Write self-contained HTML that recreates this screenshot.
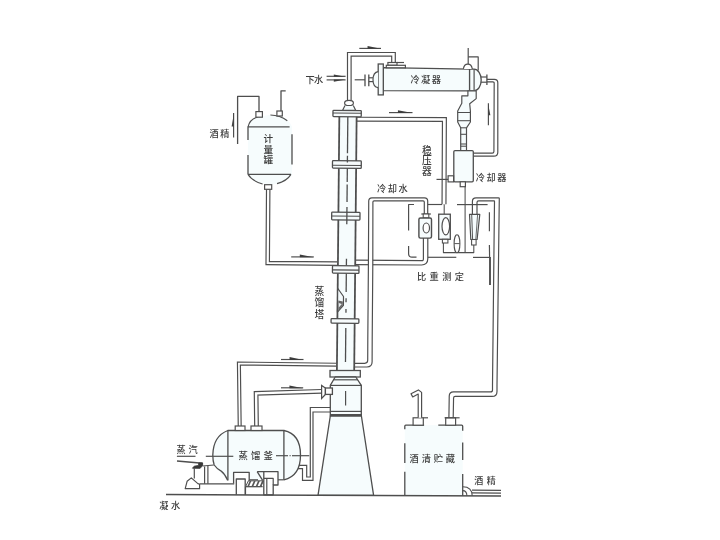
<!DOCTYPE html>
<html lang="zh"><head><meta charset="utf-8"><title>蒸馏塔流程图</title>
<style>
html,body{margin:0;padding:0;background:#fff;}
body{width:720px;height:540px;overflow:hidden;}
svg{display:block;opacity:0.999;will-change:transform;}
svg text{font-family:"Liberation Sans","Noto Sans CJK SC",sans-serif;fill:#3c3c3c;font-weight:500;}
</style></head><body>
<svg width="720" height="540" viewBox="0 0 720 540">
<rect width="720" height="540" fill="#ffffff"/>
<path d="M425.60,238.00 L425.60,258.80 Q425.60,262.80 421.60,262.78 L355.50,262.40" fill="none" stroke="#4e4e4e" stroke-width="5.58" stroke-linejoin="round"/>
<path d="M425.60,238.00 L425.60,258.80 Q425.60,262.80 421.60,262.78 L355.50,262.40" fill="none" stroke="#ffffff" stroke-width="3.22" stroke-linejoin="round"/>
<path d="M427.70,214.00 L427.70,201.10 Q427.70,197.90 424.50,197.90 L371.95,197.90 Q368.75,197.90 368.73,201.10 L368.40,265.00 Q368.40,265.00 368.40,265.00 L367.80,340.00 Q367.80,340.00 367.80,340.00 L367.71,360.30 Q367.70,363.30 364.70,363.30 L354.50,363.30 L354.50,367.00 L366.90,367.00 Q372.10,367.00 372.12,361.80 L372.20,340.00 Q372.20,340.00 372.20,340.00 L372.80,265.00 Q372.80,265.00 372.80,265.00 L372.90,202.00 Q372.90,200.80 374.10,200.80 L423.10,200.80 Q424.30,200.80 424.30,202.00 L424.30,214.00 Z" fill="#fff" stroke="none"/>
<path d="M427.70,214.00 L427.70,201.10 Q427.70,197.90 424.50,197.90 L371.95,197.90 Q368.75,197.90 368.73,201.10 L368.40,265.00 Q368.40,265.00 368.40,265.00 L367.80,340.00 Q367.80,340.00 367.80,340.00 L367.71,360.30 Q367.70,363.30 364.70,363.30 L354.50,363.30" fill="none" stroke="#4e4e4e" stroke-width="1.18"/>
<path d="M424.30,214.00 L424.30,202.00 Q424.30,200.80 423.10,200.80 L374.10,200.80 Q372.90,200.80 372.90,202.00 L372.80,265.00 Q372.80,265.00 372.80,265.00 L372.20,340.00 Q372.20,340.00 372.20,340.00 L372.12,361.80 Q372.10,367.00 366.90,367.00 L354.50,367.00" fill="none" stroke="#4e4e4e" stroke-width="1.18"/>
<path d="M268.20,189.30 L267.70,263.00 L337.50,263.60" fill="none" stroke="#4e4e4e" stroke-width="4.58" stroke-linejoin="miter"/>
<path d="M268.20,189.30 L267.70,263.00 L337.50,263.60" fill="none" stroke="#ffffff" stroke-width="2.22" stroke-linejoin="miter"/>
<path d="M349.30,100.80 L349.30,54.30 L393.50,54.30 L393.50,62.50" fill="none" stroke="#4e4e4e" stroke-width="4.78" stroke-linejoin="miter"/>
<path d="M349.30,100.80 L349.30,54.30 L393.50,54.30 L393.50,62.50" fill="none" stroke="#ffffff" stroke-width="2.42" stroke-linejoin="miter"/>
<path d="M357.00,119.20 L444.40,119.50 L444.00,204.30" fill="none" stroke="#4e4e4e" stroke-width="5.08" stroke-linejoin="miter"/>
<path d="M357.00,119.20 L444.40,119.50 L444.00,204.30" fill="none" stroke="#ffffff" stroke-width="2.72" stroke-linejoin="miter"/>
<path d="M487.00,79.40 L494.40,79.40 Q497.80,79.40 497.80,82.80 L497.80,152.20 Q497.80,156.20 493.80,156.20 L473.30,156.20 L473.30,153.20 L492.30,153.20 Q493.90,153.20 493.91,151.60 L494.19,83.20 Q494.20,81.90 492.90,81.90 L487.00,81.90 Z" fill="#fff" stroke="none"/>
<path d="M487.00,79.40 L494.40,79.40 Q497.80,79.40 497.80,82.80 L497.80,152.20 Q497.80,156.20 493.80,156.20 L473.30,156.20" fill="none" stroke="#4e4e4e" stroke-width="1.18"/>
<path d="M487.00,81.90 L492.90,81.90 Q494.20,81.90 494.19,83.20 L493.91,151.60 Q493.90,153.20 492.30,153.20 L473.30,153.20" fill="none" stroke="#4e4e4e" stroke-width="1.18"/>
<path d="M472.40,214.40 L472.40,201.40 Q472.40,197.80 476.00,197.80 L498.50,197.80 Q499.30,197.80 499.29,198.60 L497.00,385.00 Q497.00,385.00 497.00,385.00 L497.00,391.40 Q497.00,396.40 492.00,396.40 L455.20,396.40 Q453.60,396.40 453.57,398.00 L453.20,417.80 L448.90,417.80 L449.24,396.10 Q449.30,391.90 453.50,391.90 L490.50,391.90 Q492.50,391.90 492.50,389.90 L492.50,385.00 Q492.50,385.00 492.50,385.00 L494.50,201.20 Q494.50,200.80 494.10,200.80 L478.60,200.80 Q477.00,200.80 477.00,202.40 L477.00,214.40 Z" fill="#fff" stroke="none"/>
<path d="M472.40,214.40 L472.40,201.40 Q472.40,197.80 476.00,197.80 L498.50,197.80 Q499.30,197.80 499.29,198.60 L497.00,385.00 Q497.00,385.00 497.00,385.00 L497.00,391.40 Q497.00,396.40 492.00,396.40 L455.20,396.40 Q453.60,396.40 453.57,398.00 L453.20,417.80" fill="none" stroke="#4e4e4e" stroke-width="1.18"/>
<path d="M477.00,214.40 L477.00,202.40 Q477.00,200.80 478.60,200.80 L494.10,200.80 Q494.50,200.80 494.50,201.20 L492.50,385.00 Q492.50,385.00 492.50,385.00 L492.50,389.90 Q492.50,391.90 490.50,391.90 L453.50,391.90 Q449.30,391.90 449.24,396.10 L448.90,417.80" fill="none" stroke="#4e4e4e" stroke-width="1.18"/>
<path d="M239.70,426.00 L238.90,363.50 L336.60,364.70" fill="none" stroke="#4e4e4e" stroke-width="4.08" stroke-linejoin="miter"/>
<path d="M239.70,426.00 L238.90,363.50 L336.60,364.70" fill="none" stroke="#ffffff" stroke-width="1.72" stroke-linejoin="miter"/>
<path d="M256.50,426.00 L256.10,393.30 L321.60,391.30" fill="none" stroke="#4e4e4e" stroke-width="4.78" stroke-linejoin="miter"/>
<path d="M256.50,426.00 L256.10,393.30 L321.60,391.30" fill="none" stroke="#ffffff" stroke-width="2.42" stroke-linejoin="miter"/>
<polygon points="296.7,465.3 306.7,465.3 306.7,477 310.3,477 310.3,407.5 331,407.5 331,412 313,412 313,480.3 302.5,480.3 302.5,468.7 295.8,468.7" fill="#fff"/>
<path d="M296.7,465.3 H306.7 V477 H310.3 V407.5 H331" fill="none" stroke="#4e4e4e" stroke-width="1.18" stroke-linejoin="miter"/>
<path d="M295.8,468.7 H302.5 V480.3 H313 V412 H331" fill="none" stroke="#4e4e4e" stroke-width="1.18" stroke-linejoin="miter"/>
<g transform="rotate(0.55 345.5 370)">
<rect x="336.60" y="116" width="17.90" height="255" fill="#f6fcfd" stroke="none"/>
<line x1="336.90" y1="116.00" x2="336.90" y2="371.00" stroke="#4e4e4e" stroke-width="1.77" />
<line x1="354.20" y1="116.00" x2="354.20" y2="371.00" stroke="#4e4e4e" stroke-width="1.77" />
<rect x="330.50" y="110.40" width="28.30" height="6.30" rx="0.8" fill="#f6fbfc" stroke="#4e4e4e" stroke-width="1.30"/>
<line x1="330.50" y1="113.20" x2="358.80" y2="113.20" stroke="#4e4e4e" stroke-width="1.06" />
<rect x="330.50" y="160.80" width="28.80" height="7.50" rx="0.8" fill="#f6fbfc" stroke="#4e4e4e" stroke-width="1.30"/>
<line x1="330.50" y1="165.40" x2="359.30" y2="165.40" stroke="#4e4e4e" stroke-width="1.06" />
<rect x="330.20" y="212.20" width="28.30" height="7.80" rx="0.8" fill="#f6fbfc" stroke="#4e4e4e" stroke-width="1.30"/>
<line x1="330.20" y1="216.20" x2="358.50" y2="216.20" stroke="#4e4e4e" stroke-width="1.06" />
<rect x="331.50" y="265.80" width="26.50" height="7.50" rx="0.8" fill="#f6fbfc" stroke="#4e4e4e" stroke-width="1.30"/>
<line x1="331.50" y1="270.00" x2="358.00" y2="270.00" stroke="#4e4e4e" stroke-width="1.06" />
<rect x="330.60" y="318.80" width="27.80" height="4.40" rx="0.8" fill="#f6fbfc" stroke="#4e4e4e" stroke-width="1.30"/>
<line x1="345.40" y1="117.00" x2="345.40" y2="153.30" stroke="#4e4e4e" stroke-width="1.30" />
<line x1="345.40" y1="155.80" x2="345.40" y2="162.60" stroke="#4e4e4e" stroke-width="1.30" />
<line x1="345.40" y1="168.30" x2="345.40" y2="182.00" stroke="#4e4e4e" stroke-width="1.30" />
<line x1="345.40" y1="184.60" x2="345.40" y2="202.00" stroke="#4e4e4e" stroke-width="1.30" />
<line x1="345.40" y1="207.00" x2="345.40" y2="224.20" stroke="#4e4e4e" stroke-width="1.30" />
<line x1="345.40" y1="258.70" x2="345.40" y2="265.60" stroke="#4e4e4e" stroke-width="1.30" />
<line x1="345.40" y1="273.50" x2="345.40" y2="292.00" stroke="#4e4e4e" stroke-width="1.30" />
<line x1="345.40" y1="298.30" x2="345.40" y2="302.20" stroke="#4e4e4e" stroke-width="1.30" />
<line x1="345.40" y1="308.90" x2="345.40" y2="312.80" stroke="#4e4e4e" stroke-width="1.30" />
<line x1="345.40" y1="328.00" x2="345.40" y2="362.00" stroke="#4e4e4e" stroke-width="1.30" />
<path d="M336.90,288.3 L342.80,296.5 V305.5 L336.90,312.2 Z" fill="#f3f9fb" stroke="#4e4e4e" stroke-width="1.18" stroke-linejoin="round" />
<polygon points="337.60,300.5 342.20,301.5 342.20,305.5 337.60,310.8" fill="#666"/>
<polygon points="338.20,303 341.20,304 338.20,307.5" fill="#e8eef0"/>
</g>
<path d="M345,105.4 L342.5,110.4 H355.8 L353.3,105.4" fill="#f6fcfd" stroke="#4e4e4e" stroke-width="1.18" stroke-linejoin="round" />
<ellipse cx="349.00" cy="102.90" rx="4.40" ry="2.60" fill="#fff" stroke="#4e4e4e" stroke-width="1.18"/>
<rect x="330.00" y="370.50" width="30.30" height="6.50" fill="#f4f9fa" stroke="#4e4e4e" stroke-width="1.30"/>
<path d="M335.2,377 L330.3,385.4 V416 H361.3 V385.4 L355.8,377 Z" fill="#f6fcfd" stroke="#4e4e4e" stroke-width="1.30" stroke-linejoin="round" />
<line x1="333.60" y1="379.80" x2="357.80" y2="379.80" stroke="#4e4e4e" stroke-width="1.18" />
<line x1="330.00" y1="385.40" x2="361.60" y2="385.40" stroke="#4e4e4e" stroke-width="1.18" />
<line x1="330.00" y1="411.40" x2="361.60" y2="411.40" stroke="#4e4e4e" stroke-width="1.18" />
<line x1="330.00" y1="415.20" x2="361.60" y2="415.20" stroke="#4e4e4e" stroke-width="2.36" />
<line x1="345.60" y1="391.00" x2="345.60" y2="405.50" stroke="#4e4e4e" stroke-width="1.18" />
<path d="M330.3,416 L318.0,495.3 H373.6 L361.4,416 Z" fill="#f6fcfd" stroke="#4e4e4e" stroke-width="1.30" stroke-linejoin="round" />
<polygon points="321.6,385.4 321.6,398.5 325.4,394.4 325.4,388" fill="#fff" stroke="#4e4e4e" stroke-width="1.2" stroke-linejoin="miter"/>
<rect x="325.40" y="388.00" width="7.00" height="6.40" fill="#fff" stroke="#4e4e4e" stroke-width="1.30"/>
<path d="M383.3,67.7 L469.6,69.2 V90.9 L383.3,90.7 Z" fill="#f6fcfd" stroke="#4e4e4e" stroke-width="1.30" stroke-linejoin="round" />
<rect x="378.20" y="64.00" width="5.10" height="30.90" fill="#f4f9fa" stroke="#4e4e4e" stroke-width="1.30"/>
<path d="M378.2,71.7 Q373,72.5 373,79.7 Q373,87 378.2,87.7" fill="#f6fcfd" stroke="#4e4e4e" stroke-width="1.18" stroke-linejoin="round" />
<line x1="368.80" y1="77.80" x2="373.00" y2="77.80" stroke="#4e4e4e" stroke-width="1.18" />
<line x1="368.80" y1="81.60" x2="373.00" y2="81.60" stroke="#4e4e4e" stroke-width="1.18" />
<line x1="365.00" y1="74.40" x2="365.00" y2="86.20" stroke="#4e4e4e" stroke-width="1.30" />
<line x1="368.80" y1="74.40" x2="368.80" y2="86.20" stroke="#4e4e4e" stroke-width="1.30" />
<line x1="354.70" y1="79.80" x2="365.00" y2="79.80" stroke="#4e4e4e" stroke-width="1.18" />
<rect x="387.90" y="62.50" width="9.10" height="2.80" fill="#fff" stroke="#4e4e4e" stroke-width="1.18"/>
<line x1="397.00" y1="62.50" x2="404.00" y2="62.50" stroke="#4e4e4e" stroke-width="1.18" />
<rect x="386.30" y="65.30" width="19.10" height="2.50" fill="#fff" stroke="#4e4e4e" stroke-width="1.18"/>
<path d="M469.6,69.2 H474.1 A7.1,10.8 0 0 1 474.1,90.8 H469.6 Z" fill="#f6fcfd" stroke="#4e4e4e" stroke-width="1.30" stroke-linejoin="round" />
<line x1="474.10" y1="69.20" x2="474.10" y2="90.80" stroke="#4e4e4e" stroke-width="1.18" />
<path d="M463.4,68.9 Q464,64.1 467.8,64.1 Q471.6,64.1 472.3,69" fill="#fff" stroke="#4e4e4e" stroke-width="1.18" stroke-linejoin="round" />
<line x1="468.20" y1="48.00" x2="468.20" y2="64.00" stroke="#4e4e4e" stroke-width="1.18" />
<path d="M468.2,56.9 H478.2 V70.6" fill="none" stroke="#4e4e4e" stroke-width="1.18" stroke-linejoin="round" />
<line x1="481.00" y1="77.00" x2="486.90" y2="77.00" stroke="#4e4e4e" stroke-width="1.18" />
<line x1="481.00" y1="82.20" x2="486.90" y2="82.20" stroke="#4e4e4e" stroke-width="1.18" />
<line x1="486.90" y1="74.40" x2="486.90" y2="85.00" stroke="#4e4e4e" stroke-width="1.30" />
<path d="M467.9,90.8 V95.8 H461.8 V103.2 L457.7,111 V122 L460.7,127.8 V150.5 H466.5 V127.8 L470.4,122 V111 L469.7,103.8 L476.2,98.6 V90.8 Z" fill="#f6fcfd" stroke="#4e4e4e" stroke-width="1.18" stroke-linejoin="round" />
<line x1="457.70" y1="112.50" x2="470.40" y2="112.50" stroke="#4e4e4e" stroke-width="1.06" />
<line x1="457.70" y1="120.70" x2="470.40" y2="120.70" stroke="#4e4e4e" stroke-width="1.06" />
<line x1="460.70" y1="127.80" x2="466.50" y2="127.80" stroke="#4e4e4e" stroke-width="1.06" />
<line x1="460.70" y1="134.30" x2="466.50" y2="134.30" stroke="#4e4e4e" stroke-width="1.06" />
<line x1="460.70" y1="144.00" x2="466.50" y2="144.00" stroke="#4e4e4e" stroke-width="1.06" />
<line x1="460.70" y1="146.20" x2="466.50" y2="146.20" stroke="#4e4e4e" stroke-width="1.06" />
<rect x="453.8" y="150.6" width="19.5" height="31.2" rx="1.2" fill="#f6fcfd" stroke="#4e4e4e" stroke-width="1.30"/>
<rect x="448.10" y="175.80" width="5.50" height="6.10" fill="#fff" stroke="#4e4e4e" stroke-width="1.18"/>
<line x1="436.50" y1="179.40" x2="448.10" y2="179.40" stroke="#4e4e4e" stroke-width="1.18" />
<rect x="460.20" y="181.80" width="5.20" height="4.90" fill="#fff" stroke="#4e4e4e" stroke-width="1.18"/>
<line x1="465.10" y1="186.70" x2="465.10" y2="252.60" stroke="#4e4e4e" stroke-width="1.06" />
<line x1="421.30" y1="214.00" x2="430.90" y2="214.00" stroke="#4e4e4e" stroke-width="1.18" />
<rect x="423.20" y="214.00" width="5.60" height="4.00" fill="#fff" stroke="#4e4e4e" stroke-width="1.06"/>
<rect x="418.9" y="218" width="12.6" height="20.1" rx="1.5" fill="#f6fcfd" stroke="#4e4e4e" stroke-width="1.42"/>
<ellipse cx="426.30" cy="228.00" rx="3.20" ry="5.00" fill="#fff" stroke="#4e4e4e" stroke-width="1.18"/>
<line x1="444.20" y1="204.50" x2="444.20" y2="214.20" stroke="#4e4e4e" stroke-width="1.06" />
<rect x="438.70" y="214.20" width="11.60" height="25.10" fill="#f6fcfd" stroke="#4e4e4e" stroke-width="1.30"/>
<ellipse cx="445.80" cy="226.30" rx="3.80" ry="8.60" fill="#fff" stroke="#4e4e4e" stroke-width="1.18"/>
<rect x="442.40" y="239.30" width="5.50" height="3.70" fill="#fff" stroke="#4e4e4e" stroke-width="1.06"/>
<path d="M443.4,243 V252.6 H473.8 V245" fill="none" stroke="#4e4e4e" stroke-width="1.06" stroke-linejoin="round" />
<ellipse cx="457.00" cy="243.80" rx="2.90" ry="9.00" fill="#fff" stroke="#4e4e4e" stroke-width="1.06"/>
<line x1="454.20" y1="243.60" x2="459.80" y2="243.60" stroke="#4e4e4e" stroke-width="0.94" />
<path d="M469.5,214.4 H479.8 L477.1,239.5 H470.8 Z" fill="#f6fcfd" stroke="#4e4e4e" stroke-width="1.18" stroke-linejoin="round" />
<line x1="471.70" y1="214.40" x2="472.60" y2="239.50" stroke="#4e4e4e" stroke-width="0.94" />
<line x1="477.60" y1="214.40" x2="475.80" y2="239.50" stroke="#4e4e4e" stroke-width="0.83" />
<rect x="471.60" y="239.50" width="4.50" height="5.50" fill="#fff" stroke="#4e4e4e" stroke-width="1.06"/>
<path d="M414,204.5 H408.6 V230.4" fill="none" stroke="#4e4e4e" stroke-width="1.18" stroke-linejoin="round" />
<path d="M408.6,246 V253.5 Q408.6,257.2 412,257.2 H416.5" fill="none" stroke="#4e4e4e" stroke-width="1.18" stroke-linejoin="round" />
<line x1="427.80" y1="204.50" x2="442.00" y2="204.50" stroke="#4e4e4e" stroke-width="1.18" />
<line x1="457.00" y1="204.60" x2="487.60" y2="204.60" stroke="#4e4e4e" stroke-width="1.18" />
<line x1="489.40" y1="212.20" x2="489.40" y2="231.20" stroke="#4e4e4e" stroke-width="1.18" />
<line x1="489.40" y1="245.00" x2="489.60" y2="257.00" stroke="#4e4e4e" stroke-width="1.18" />
<line x1="490.00" y1="257.00" x2="490.00" y2="285.00" stroke="#4e4e4e" stroke-width="1.89" />
<line x1="427.90" y1="257.30" x2="456.30" y2="257.30" stroke="#4e4e4e" stroke-width="1.18" />
<line x1="473.00" y1="257.40" x2="490.00" y2="257.40" stroke="#4e4e4e" stroke-width="1.18" />
<path d="M248,126.8 Q250,119 257.6,117.2 L270,114.8 L282,116.4 Q289,119 292,126.8 V174.2 Q288,182 270,185 Q252,182 248,174.2 Z" fill="#f6fcfd" stroke="none"/>
<path d="M248,126.8 Q250,119 257.6,117.2" fill="none" stroke="#4e4e4e" stroke-width="1.1"/>
<path d="M270.4,115 Q280,115.2 287.3,120.7" fill="none" stroke="#4e4e4e" stroke-width="1.1"/>
<line x1="248.00" y1="126.80" x2="289.60" y2="126.80" stroke="#4e4e4e" stroke-width="1.30" />
<line x1="248.00" y1="174.40" x2="291.00" y2="174.40" stroke="#4e4e4e" stroke-width="1.30" />
<line x1="248.00" y1="126.50" x2="248.00" y2="140.00" stroke="#4e4e4e" stroke-width="1.30" />
<line x1="248.00" y1="155.00" x2="248.00" y2="174.40" stroke="#4e4e4e" stroke-width="1.30" />
<line x1="292.00" y1="134.30" x2="292.00" y2="164.60" stroke="#4e4e4e" stroke-width="1.30" />
<path d="M248,174.4 Q252,181 262.6,184" fill="none" stroke="#4e4e4e" stroke-width="1.1"/>
<path d="M277,183.6 Q287,181 291,174.4" fill="none" stroke="#4e4e4e" stroke-width="1.1"/>
<rect x="255.90" y="111.60" width="6.50" height="5.60" fill="#fff" stroke="#4e4e4e" stroke-width="1.18"/>
<rect x="276.90" y="111.00" width="5.40" height="5.00" fill="#fff" stroke="#4e4e4e" stroke-width="1.18"/>
<path d="M237.6,144 V96.4 H259 V111.6" fill="none" stroke="#4e4e4e" stroke-width="1.30" stroke-linejoin="round" />
<path d="M281,111 V90.8 H285.7" fill="none" stroke="#4e4e4e" stroke-width="1.30" stroke-linejoin="round" />
<rect x="264.60" y="184.70" width="7.10" height="4.60" fill="#fff" stroke="#4e4e4e" stroke-width="1.18"/>
<line x1="233.60" y1="137.50" x2="233.60" y2="113.00" stroke="#4e4e4e" stroke-width="1.18" />
<polygon points="234.00,113.00 231.60,126.47 234.00,126.47" fill="#444"/>
<path d="M227.7,430.5 H283.9 Q300.5,434 300.5,455 Q300.5,476 283.9,479.8 H227.7 Q220,474 214.6,465 Q212,458 212.5,455 Q213,436 227.7,430.5 Z" fill="#f6fcfd" stroke="none"/>
<path d="M227.9,480.4 V430.5 H283.9 V479.8" fill="none" stroke="#4e4e4e" stroke-width="1.30" stroke-linejoin="round" />
<path d="M227.9,430.5 Q213.2,436 212.8,455 Q212.8,461 214.2,465 Q217,469 220.8,470.8 Q225,474 227.6,480.2" fill="none" stroke="#4e4e4e" stroke-width="1.30" stroke-linejoin="round" />
<path d="M283.9,430.5 Q300.5,434 300.5,455 Q300.5,476 283.9,479.8" fill="none" stroke="#4e4e4e" stroke-width="1.30" stroke-linejoin="round" />
<line x1="276.00" y1="479.80" x2="283.90" y2="479.80" stroke="#4e4e4e" stroke-width="1.18" />
<line x1="249.00" y1="479.80" x2="258.00" y2="479.80" stroke="#4e4e4e" stroke-width="1.18" />
<line x1="205.80" y1="456.30" x2="233.30" y2="456.30" stroke="#4e4e4e" stroke-width="1.18" />
<line x1="276.00" y1="455.70" x2="288.00" y2="455.70" stroke="#4e4e4e" stroke-width="1.18" />
<line x1="289.60" y1="455.70" x2="290.60" y2="455.70" stroke="#4e4e4e" stroke-width="1.18" />
<line x1="292.00" y1="455.70" x2="309.30" y2="455.70" stroke="#4e4e4e" stroke-width="1.18" />
<rect x="235.20" y="426.00" width="9.80" height="4.50" fill="#fff" stroke="#4e4e4e" stroke-width="1.18"/>
<rect x="251.00" y="426.00" width="11.00" height="4.50" fill="#fff" stroke="#4e4e4e" stroke-width="1.18"/>
<path d="M233.6,483.6 V472.4 H249.2 V481" fill="#fff" stroke="#4e4e4e" stroke-width="1.30" stroke-linejoin="round" />
<path d="M236.3,494.8 V479 H245.2 V494.8" fill="#fff" stroke="#4e4e4e" stroke-width="1.30" stroke-linejoin="round" />
<path d="M257.2,471.7 H278 V485 H273.2 V494.8 H263.8 V471.7" fill="#fff" stroke="#4e4e4e" stroke-width="1.30" stroke-linejoin="round" />
<path d="M273.2,485 V478.3 H263.8" fill="none" stroke="#4e4e4e" stroke-width="1.18" stroke-linejoin="round" />
<line x1="266.80" y1="478.30" x2="266.80" y2="494.80" stroke="#4e4e4e" stroke-width="1.18" />
<path d="M257.2,471.7 L262.8,480.6" fill="none" stroke="#4e4e4e" stroke-width="1.30" stroke-linejoin="round" />
<path d="M245.5,494.8 V486.6 H262.6" fill="#fff" stroke="#4e4e4e" stroke-width="1.18" stroke-linejoin="round" />
<polygon points="245.6,486.6 248.4,480.8 263.2,480.8 260.6,486.6" fill="#fff" stroke="#4e4e4e" stroke-width="1"/>
<polygon points="247.20,486.4 249.60,481 251.40,481 249.00,486.4" fill="#555"/>
<polygon points="251.40,486.4 253.80,481 255.60,481 253.20,486.4" fill="#555"/>
<polygon points="255.60,486.4 258.00,481 259.80,481 257.40,486.4" fill="#555"/>
<polygon points="259.60,486.4 262.00,481 263.80,481 261.40,486.4" fill="#555"/>
<path d="M177,461 L202.5,463.3" fill="none" stroke="#4e4e4e" stroke-width="1.65" stroke-linejoin="round" />
<path d="M192.5,468.2 L194.2,466.2 L198.6,465.5 L198.8,462.9 L202.6,462.9 L202.6,465.8 L200,468.3 Z" fill="#383838" stroke="#383838" stroke-width="0.9" stroke-linejoin="round"/>
<path d="M194.3,468.3 V478.6" fill="none" stroke="#4e4e4e" stroke-width="1.18" stroke-linejoin="round" />
<path d="M191.3,477.9 L187.1,481.3 L185.2,488.7 H199.6 V484.2 L197.9,483.6 Z" fill="#fff" stroke="#4e4e4e" stroke-width="1.18" stroke-linejoin="round" />
<path d="M202.6,466 L213.8,465" fill="none" stroke="#4e4e4e" stroke-width="1.18" stroke-linejoin="round" />
<line x1="204.60" y1="466.40" x2="204.60" y2="483.70" stroke="#4e4e4e" stroke-width="1.18" />
<line x1="207.90" y1="466.00" x2="207.90" y2="483.70" stroke="#4e4e4e" stroke-width="1.18" />
<line x1="199.60" y1="483.80" x2="234.20" y2="483.80" stroke="#4e4e4e" stroke-width="1.30" />
<line x1="176.90" y1="456.30" x2="195.50" y2="456.30" stroke="#4e4e4e" stroke-width="1.18" />
<rect x="404.8" y="425.2" width="57.9" height="70.6" fill="#f6fcfd"/>
<path d="M404.8,429.2 V426.2 Q404.8,425.2 405.8,425.2 H424.1" fill="none" stroke="#4e4e4e" stroke-width="1.30" stroke-linejoin="round" />
<path d="M438.3,425.2 H461.7 Q462.7,425.2 462.7,426.2 V430.7" fill="none" stroke="#4e4e4e" stroke-width="1.30" stroke-linejoin="round" />
<line x1="404.80" y1="443.30" x2="404.80" y2="463.00" stroke="#4e4e4e" stroke-width="1.30" />
<line x1="404.80" y1="471.70" x2="404.80" y2="495.80" stroke="#4e4e4e" stroke-width="1.30" />
<line x1="462.70" y1="442.60" x2="462.70" y2="459.90" stroke="#4e4e4e" stroke-width="1.30" />
<line x1="462.70" y1="474.00" x2="462.70" y2="495.80" stroke="#4e4e4e" stroke-width="1.30" />
<rect x="413.10" y="417.80" width="10.20" height="7.40" fill="#fff" stroke="#4e4e4e" stroke-width="1.18"/>
<line x1="423.30" y1="417.80" x2="428.00" y2="417.80" stroke="#4e4e4e" stroke-width="1.18" />
<rect x="445.70" y="417.80" width="9.90" height="7.40" fill="#fff" stroke="#4e4e4e" stroke-width="1.18"/>
<line x1="444.60" y1="417.80" x2="459.60" y2="417.80" stroke="#4e4e4e" stroke-width="1.18" />
<path d="M421.6,417.8 V392.4 L418.4,389.9 L411.0,393.7 L412.7,396.9 L418.2,394.0 V417.8" fill="#fff" stroke="#4e4e4e" stroke-width="1.18" stroke-linejoin="round" />
<path d="M462.7,486.7 Q472.2,486.7 472.2,495.8" fill="none" stroke="#4e4e4e" stroke-width="1.06" stroke-linejoin="round" />
<path d="M462.7,490.6 Q466.9,490.6 466.9,495.8" fill="none" stroke="#4e4e4e" stroke-width="1.06" stroke-linejoin="round" />
<line x1="472.00" y1="490.20" x2="501.00" y2="490.40" stroke="#4e4e4e" stroke-width="1.18" />
<line x1="472.00" y1="492.90" x2="501.00" y2="493.10" stroke="#4e4e4e" stroke-width="1.18" />
<line x1="166.00" y1="494.50" x2="501.00" y2="496.00" stroke="#4e4e4e" stroke-width="1.53" />
<line x1="359.30" y1="48.40" x2="381.00" y2="48.40" stroke="#4e4e4e" stroke-width="1.18" />
<polygon points="381.00,48.80 367.55,46.00 367.55,48.80" fill="#3c3c3c"/>
<line x1="326.60" y1="76.30" x2="345.60" y2="76.30" stroke="#4e4e4e" stroke-width="1.18" />
<polygon points="345.60,76.70 333.82,74.40 333.82,76.70" fill="#3c3c3c"/>
<line x1="326.60" y1="79.90" x2="345.60" y2="79.90" stroke="#4e4e4e" stroke-width="1.18" />
<polygon points="345.60,79.50 333.82,81.80 333.82,79.50" fill="#3c3c3c"/>
<line x1="389.00" y1="112.60" x2="412.50" y2="112.60" stroke="#4e4e4e" stroke-width="1.18" />
<polygon points="412.50,113.00 397.93,110.20 397.93,113.00" fill="#3c3c3c"/>
<line x1="291.20" y1="256.90" x2="313.80" y2="256.90" stroke="#4e4e4e" stroke-width="1.18" />
<polygon points="313.80,257.30 299.79,254.50 299.79,257.30" fill="#3c3c3c"/>
<line x1="281.00" y1="359.50" x2="303.50" y2="359.50" stroke="#4e4e4e" stroke-width="1.18" />
<polygon points="303.50,359.90 289.55,357.10 289.55,359.90" fill="#3c3c3c"/>
<line x1="281.00" y1="387.80" x2="303.20" y2="387.80" stroke="#4e4e4e" stroke-width="1.18" />
<polygon points="303.20,388.20 289.44,385.40 289.44,388.20" fill="#3c3c3c"/>
<line x1="488.40" y1="125.20" x2="488.40" y2="103.20" stroke="#4e4e4e" stroke-width="1.18" />
<polygon points="488.00,103.20 490.40,115.30 488.00,115.30" fill="#444"/>
<text x="305.40" y="83.00" font-size="9.2" letter-spacing="-0.50" text-anchor="start">下水</text>
<text x="410.40" y="83.30" font-size="9.2" letter-spacing="1.50" text-anchor="start">冷凝器</text>
<text x="209.40" y="136.80" font-size="9.2" letter-spacing="1.70" text-anchor="start">酒精</text>
<text x="268.20" y="142.00" font-size="9.6" text-anchor="middle">计</text>
<text x="268.20" y="152.60" font-size="9.6" text-anchor="middle">量</text>
<text x="268.20" y="163.20" font-size="9.6" text-anchor="middle">罐</text>
<text x="426.80" y="153.60" font-size="9.8" text-anchor="middle">稳</text>
<text x="426.80" y="164.40" font-size="9.8" text-anchor="middle">压</text>
<text x="426.80" y="175.20" font-size="9.8" text-anchor="middle">器</text>
<text x="475.80" y="181.40" font-size="9.2" letter-spacing="1.60" text-anchor="start">冷却器</text>
<text x="377.00" y="192.30" font-size="9.2" letter-spacing="1.60" text-anchor="start">冷却水</text>
<text x="417.00" y="280.40" font-size="9.2" letter-spacing="3.40" text-anchor="start">比重测定</text>
<text x="319.50" y="295.00" font-size="9.8" text-anchor="middle">蒸</text>
<text x="319.50" y="306.30" font-size="9.8" text-anchor="middle">馏</text>
<text x="319.50" y="317.60" font-size="9.8" text-anchor="middle">塔</text>
<text x="176.60" y="452.70" font-size="9.2" letter-spacing="2.60" text-anchor="start">蒸汽</text>
<text x="238.60" y="459.20" font-size="9.4" letter-spacing="3.10" text-anchor="start">蒸馏釜</text>
<text x="159.30" y="509.40" font-size="9.2" letter-spacing="2.60" text-anchor="start">凝水</text>
<text x="409.60" y="462.40" font-size="9.2" letter-spacing="2.90" text-anchor="start">酒清贮藏</text>
<text x="474.20" y="484.20" font-size="9.0" letter-spacing="3.60" text-anchor="start">酒精</text>
</svg>
</body></html>
